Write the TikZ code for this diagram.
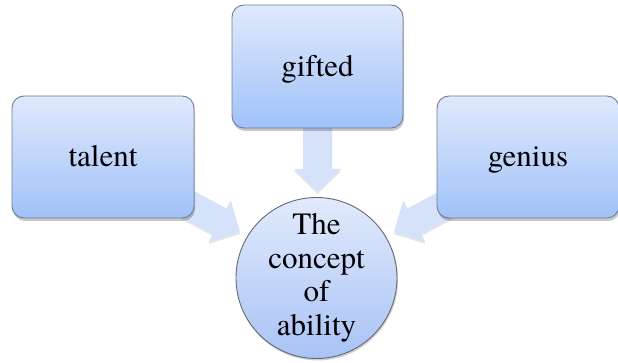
\documentclass[tikz,border=0pt]{standalone}
\usepackage{fontspec}
\newfontfamily\termfont{texgyretermes-regular.otf}
\usetikzlibrary{shadows}
\definecolor{boxtop}{RGB}{224,233,252}
\definecolor{boxbot}{RGB}{160,194,249}
\definecolor{boxline}{RGB}{112,124,146}
\definecolor{circtop}{RGB}{226,234,251}
\definecolor{circbot}{RGB}{168,195,246}
\definecolor{circline}{RGB}{100,104,114}
\definecolor{arrowfill}{RGB}{213,226,250}
\tikzset{
  termbox/.style={draw=boxline, line width=0.9pt, rounded corners=12pt,
    top color=boxtop, bottom color=boxbot, inner sep=0pt,
    font=\termfont\fontsize{31}{34}\selectfont,
    text height=23pt, text depth=3pt,
    drop shadow={shadow xshift=1pt, shadow yshift=-3pt, fill=black, opacity=0.22}},
  hubcircle/.style={circle, draw=circline, line width=0.9pt,
    top color=circtop, bottom color=circbot, inner sep=0pt,
    minimum size=161pt, align=center,
    font=\termfont\fontsize{31}{33.5}\selectfont,
    drop shadow={shadow xshift=1pt, shadow yshift=-2pt, fill=black, opacity=0.18}},
  blockarrow/.pic={
    \fill[arrowfill, drop shadow={shadow xshift=0pt, shadow yshift=-2pt, fill=black, opacity=0.10}]
      (0,-14.5) -- (41,-14.5) -- (41,-23.5) -- (64,0) -- (41,23.5) -- (41,14.5) -- (0,14.5) -- cycle;
  }
}
\begin{document}
\begin{tikzpicture}[x=1pt,y=-1pt]
  \useasboundingbox (0,0) rectangle (618,363);
  % anchor points of the block arrows (tail end, behind the boxes)
  \coordinate (tgift) at (317.5,128);
  \coordinate (ttal) at (183.5,202);
  \coordinate (tgen) at (450.5,202);
  % block arrows pointing at the hub (drawn first, behind the boxes)
  \pic[rotate=-90] at (tgift) {blockarrow};
  \pic[rotate=-28] at (ttal) {blockarrow};
  \pic[rotate=208] at (tgen) {blockarrow};
  % the three terms
  \node[termbox, minimum width=182pt, minimum height=122pt] (talent) at (103,157) {talent};
  \node[termbox, minimum width=171pt, minimum height=123pt] (gifted) at (317.5,66.5) {gifted};
  \node[termbox, minimum width=182pt, minimum height=122pt] (genius) at (528,157) {genius};
  % central concept
  \node[hubcircle] (ability) at (316.5,278) {The\\concept\\of\\ability};
\end{tikzpicture}
\end{document}
